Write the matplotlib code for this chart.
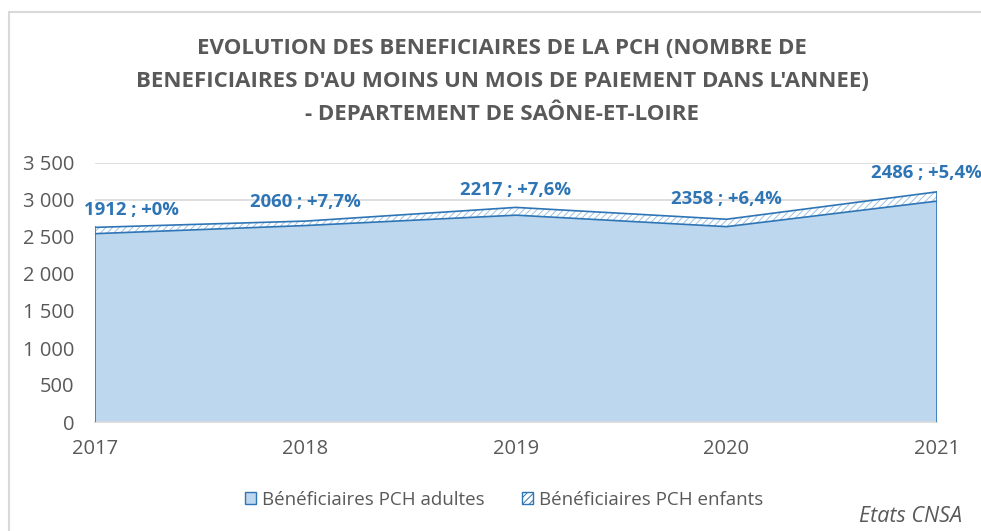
import matplotlib
matplotlib.use("Agg")
import matplotlib.pyplot as plt
from matplotlib.patches import Patch, Rectangle
from matplotlib.ticker import FuncFormatter, MultipleLocator

# data
years = [2017, 2018, 2019, 2020, 2021]
adultes = [2545, 2655, 2795, 2640, 2985]
enfants = [85, 60, 105, 100, 125]
label_counts = [1912, 2060, 2217, 2358, 2486]
label_pct = ["+0%", "+7,7%", "+7,6%", "+6,4%", "+5,4%"]

title_lines = [
    "EVOLUTION DES BENEFICIAIRES DE LA PCH (NOMBRE DE",
    "BENEFICIAIRES D'AU MOINS UN MOIS DE PAIEMENT DANS L'ANNEE)",
    "- DEPARTEMENT DE SAÔNE-ET-LOIRE",
]

FONT = ["Open Sans", "DejaVu Sans"]
GREY = "#595959"
BLUE_EDGE = "#2E75B6"
BLUE_FILL = "#BDD7EE"
LABEL_BLUE = "#2E75B6"

plt.rcParams["font.family"] = FONT
plt.rcParams["hatch.color"] = "#9DC3E6"
plt.rcParams["hatch.linewidth"] = 0.7

W, H = 981, 531
fig = plt.figure(figsize=(W / 100, H / 100), dpi=100)
ax = fig.add_axes([95 / W, 1 - 422 / H, (937 - 95) / W, (422 - 163) / H])

totals = [a + e for a, e in zip(adultes, enfants)]

ax.fill_between(years, 0, adultes, facecolor=BLUE_FILL, edgecolor="none", zorder=2)
ax.fill_between(years, adultes, totals, facecolor="white", edgecolor="#9DC3E6",
                hatch="/////", linewidth=0, zorder=2)
ax.plot(years, adultes, color=BLUE_EDGE, lw=1.2, zorder=3)
ax.plot(years, totals, color=BLUE_EDGE, lw=1.2, zorder=3)
ax.plot([years[0], years[0]], [0, totals[0]], color=BLUE_EDGE, lw=1.2, zorder=3)
ax.plot([years[-1], years[-1]], [0, totals[-1]], color=BLUE_EDGE, lw=1.2, zorder=3)

ax.set_xlim(years[0], years[-1])
ax.set_ylim(0, 3500)
ax.yaxis.set_major_locator(MultipleLocator(500))
ax.yaxis.set_major_formatter(FuncFormatter(lambda v, p: f"{int(v):,}".replace(",", " ")))
ax.set_xticks(years)
ax.grid(axis="y", color="#D9D9D9", lw=1.2, zorder=0)
for s in ["top", "right", "left"]:
    ax.spines[s].set_visible(False)
ax.spines["bottom"].set_color("#D9D9D9")
ax.spines["bottom"].set_linewidth(1.2)
ax.tick_params(axis="both", length=0, colors=GREY, labelsize=14.5)
ax.tick_params(axis="x", pad=12)
ax.tick_params(axis="y", pad=15)

# data labels above the stacked total
offsets = [(36, 17), (0, 19), (0, 17), (0, 20), (-11, 19)]
for yr, tot, n, pct, (dx, dy) in zip(years, totals, label_counts, label_pct, offsets):
    ax.annotate(f"{n} ; {pct}", (yr, tot), xytext=(dx, dy), textcoords="offset pixels",
                ha="center", va="center", fontsize=13.3, fontweight="bold",
                color=LABEL_BLUE, annotation_clip=False, zorder=5)

# title
for i, line in enumerate(title_lines):
    fig.text(502 / W, 1 - (48 + 33.5 * i) / H, line, ha="center", va="center",
             fontsize=16, fontweight="bold", color=GREY)

# legend
handles = [
    Patch(facecolor=BLUE_FILL, edgecolor=BLUE_EDGE, label="Bénéficiaires PCH adultes"),
    Patch(facecolor="white", edgecolor=BLUE_EDGE, hatch="/////", label="Bénéficiaires PCH enfants"),
]
fig.legend(handles=handles, loc="center", bbox_to_anchor=(504 / W, 1 - 500 / H), ncol=2,
           frameon=False, fontsize=13.5, labelcolor=GREY, handlelength=0.6, handleheight=0.6,
           handletextpad=0.3, columnspacing=2.0)

fig.text(962 / W, 1 - 517 / H, "Etats CNSA", ha="right", va="center", fontsize=15.5,
         style="italic", color=GREY)

# chart border
fig.patches.append(Rectangle((9 / W, -0.05), 1.2, 1 - 12 / H + 0.05, transform=fig.transFigure,
                             fill=False, edgecolor="#D9D9D9", lw=1.5))

fig.savefig("out.png", dpi=100)
